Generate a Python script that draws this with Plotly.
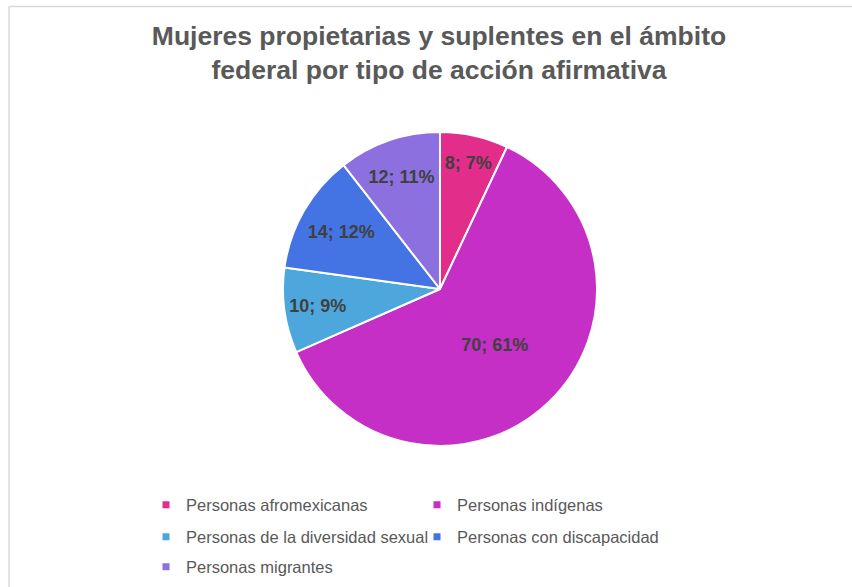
import plotly.graph_objects as go

# datos: mujeres propietarias y suplentes por tipo de accion afirmativa
categorias = [
    "Personas afromexicanas",
    "Personas indígenas",
    "Personas de la diversidad sexual",
    "Personas con discapacidad",
    "Personas migrantes",
]
valores = [8, 70, 10, 14, 12]
colores = ["#E22D8B", "#C62FC6", "#4EA7DC", "#4473E4", "#8C70DF"]

# filas de la leyenda (dos columnas, como en el original)
filas_leyenda = [[0, 1], [2, 3], [4]]

W, H = 852, 587
cx, cy, r = 440, 289, 157
fuente = "Liberation Sans, Arial"

fig = go.Figure()
fig.add_trace(go.Pie(
    labels=categorias,
    values=valores,
    sort=False,
    direction="clockwise",
    rotation=0,
    marker=dict(colors=colores, line=dict(color="white", width=2)),
    texttemplate="%{value}; %{percent:.0%}",
    textposition="inside",
    insidetextorientation="horizontal",
    textfont=dict(family=fuente, size=18, color="#404040", weight="bold"),
    domain=dict(x=[(cx - r) / W, (cx + r) / W], y=[1 - (cy + r) / H, 1 - (cy - r) / H]),
    hoverinfo="label+value+percent",
    showlegend=False,
))

# entradas de leyenda con marcador cuadrado pequeño
nombres_leyenda = ["legend", "legend2", "legend3"]
for fila, ids in enumerate(filas_leyenda):
    for i in ids:
        fig.add_trace(go.Scatter(
            x=[None], y=[None], mode="markers",
            marker=dict(symbol="square", size=7, color=colores[i]),
            name=categorias[i],
            legend=nombres_leyenda[fila],
            hoverinfo="skip",
        ))

filas_y = [505, 537, 567]
legendas = {}
for fila, nombre in enumerate(nombres_leyenda):
    legendas[nombre] = dict(
        orientation="h",
        x=146 / W,
        xanchor="left",
        y=1 - filas_y[fila] / H,
        yanchor="middle",
        entrywidth=226,
        entrywidthmode="pixels",
        itemwidth=30,
        font=dict(family=fuente, size=16.5, color="#595959"),
        bgcolor="rgba(0,0,0,0)",
    )

fig.update_layout(
    width=W,
    height=H,
    margin=dict(l=0, r=0, t=0, b=0),
    paper_bgcolor="white",
    plot_bgcolor="white",
    xaxis=dict(visible=False),
    yaxis=dict(visible=False),
    title=dict(
        text="Mujeres propietarias y suplentes en el ámbito<br>federal por tipo de acción afirmativa",
        x=439 / W,
        xanchor="center",
        y=1 - 45 / H,
        yanchor="top",
        font=dict(family=fuente, size=26.5, color="#595959", weight="bold"),
    ),
    shapes=[
        dict(type="line", xref="paper", yref="paper",
             x0=9 / W, x1=1.02, y0=1 - 6.5 / H, y1=1 - 6.5 / H,
             line=dict(color="#D9D9D9", width=1.5)),
        dict(type="line", xref="paper", yref="paper",
             x0=9 / W, x1=9 / W, y0=1 - 6.5 / H, y1=-0.02,
             line=dict(color="#D9D9D9", width=1.5)),
    ],
    **legendas,
)

fig.write_html(
    "out.html",
    config={"displayModeBar": False},
    post_script="document.body.style.margin='0';",
)
